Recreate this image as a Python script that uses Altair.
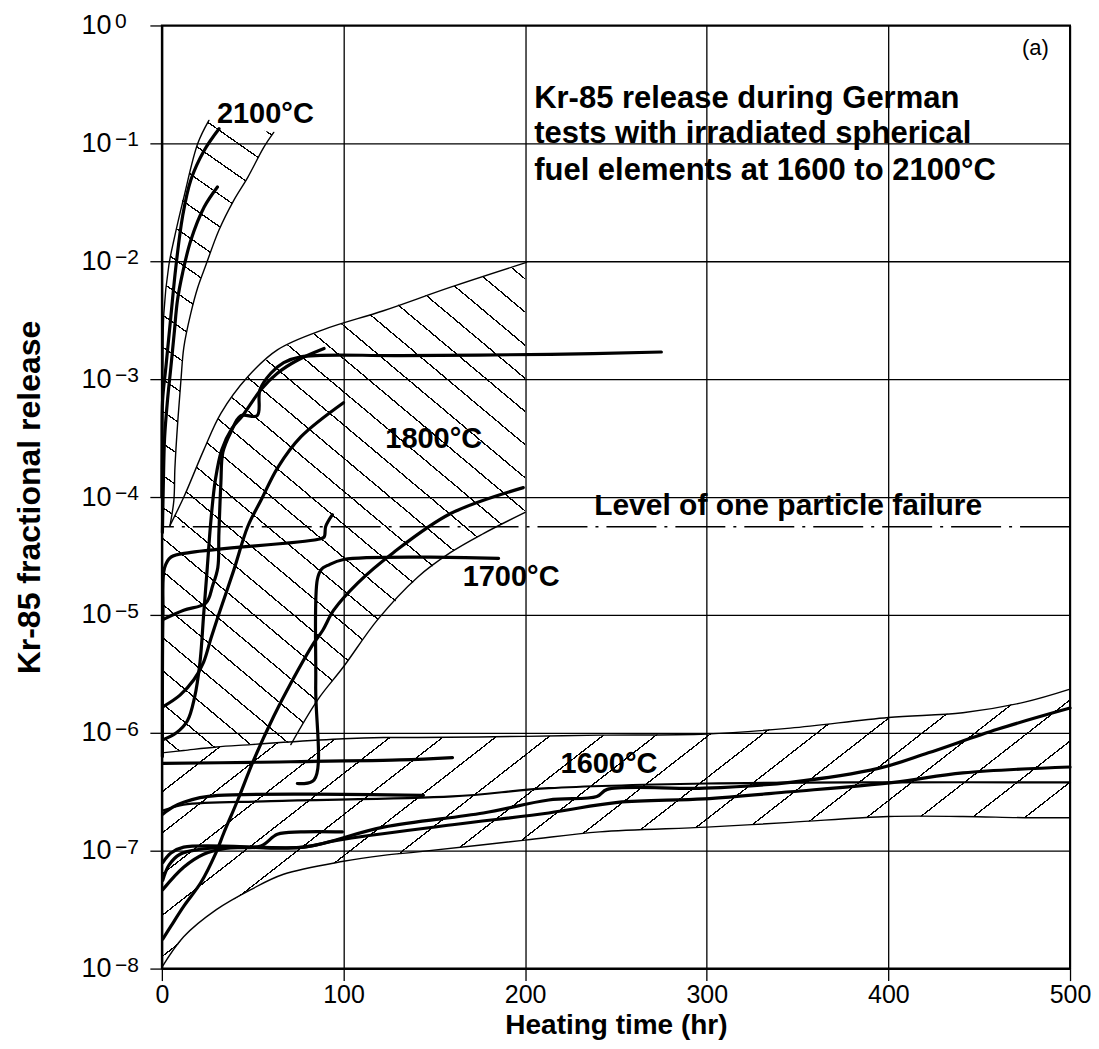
import math
import altair as alt
import pandas as pd

# ---------------- values ----------------
X_TICKS = [0, 100, 200, 300, 400, 500]
Y_TICKS = [1e-8, 1e-7, 1e-6, 1e-5, 1e-4, 1e-3, 1e-2, 1e-1, 1.0]
Y_EXPONENTS = ["−8", "−7", "−6", "−5", "−4", "−3", "−2", "−1", "0"]
LEVEL_ONE_PARTICLE = 5.6e-5

# hatched bands (log10 of fractional release)
# 2100 C band, read along the release axis: left / right time boundary
B2100_LOG = [-4.22, -4.03, -3.75, -3.35, -3.01, -2.73, -2.44, -2.22, -2.03, -1.74, -1.48, -1.29, -1.03, -0.91, -0.86, -0.805]
B2100_LEFT = [0, 0, 0, 0, 0.35, 0.8, 1.1, 2.3, 3.85, 7.6, 11.2, 14.5, 19.3, 22.5, 24.3, 25.9]
B2100_RIGHT = [5.0, 6.6, 7.2, 8.8, 10.5, 12.1, 15.95, 19.8, 24.2, 31.4, 39.6, 47.3, 56.1, 61.6, 45.2, 26.5]

# 1800 C band
B1800_T = [0, 5, 12, 23, 32.5, 47, 64, 71, 86, 100, 119, 141, 159, 177, 200]
B1800_UP = [-4.27, -4.22, -4.0, -3.60, -3.29, -2.98, -2.75, -2.70, -2.60, -2.53, -2.43, -2.31, -2.22, -2.13, -2.01]
B1800_LO = [-6.17, -6.16, -6.15, -6.13, -6.12, -6.10, -6.09, -6.08, -5.72, -5.44, -5.04, -4.68, -4.47, -4.31, -4.13]

# 1600 C band
B1600_T = [0, 12, 30, 49, 67, 100, 122, 141, 200, 241, 300, 346, 400, 441, 475, 500]
B1600_UP = [-6.17, -6.15, -6.12, -6.10, -6.08, -6.05, -6.04, -6.04, -6.03, -6.02, -6.01, -5.96, -5.87, -5.83, -5.74, -5.63]
B1600_LO = [-7.99, -7.73, -7.50, -7.33, -7.20, -7.09, -7.04, -7.01, -6.91, -6.84, -6.80, -6.76, -6.71, -6.71, -6.72, -6.72]

# thin band boundaries
E2100_LEFT_T = [25.9, 19.8, 12.1, 6.6, 3.85, 1.1, 0.55, 0.0]
E2100_LEFT_L = [-0.805, -1.0, -1.458, -1.822, -2.034, -2.44, -2.9, -3.2]
E2100_RIGHT_T = [61.6, 56.1, 47.3, 39.6, 31.4, 24.2, 19.8, 15.95, 12.1, 10.5, 8.8, 7.2, 6.6, 4.5]
E2100_RIGHT_L = [-0.907, -1.034, -1.288, -1.483, -1.737, -2.034, -2.22, -2.44, -2.73, -3.01, -3.35, -3.75, -4.03, -4.24]
E1800_UP_T = [4.5, 12.1, 23.1, 32.5, 47.3, 63.8, 89, 122, 159, 200.8]
E1800_UP_L = [-4.24, -4.0, -3.60, -3.29, -2.98, -2.75, -2.58, -2.42, -2.22, -2.01]
E1800_LO_T = [71, 85.8, 100, 118.8, 140.8, 159, 177, 200]
E1800_LO_L = [-6.10, -5.72, -5.44, -5.04, -4.68, -4.47, -4.31, -4.13]

# measured release curves (time in hr, log10 release)
C2100A_T = [0.0, 0.1, 0.4, 2.2, 4.95, 7.7, 11.4, 15.95, 23.3, 31.5]
C2100A_L = [-4.0, -3.6, -3.18, -2.90, -2.47, -2.05, -1.62, -1.31, -1.06, -0.876]
C2100B_T = [0.3, 0.8, 1.5, 3.1, 4.95, 6.8, 8.6, 11.4, 16.0, 23.3, 30.6]
C2100B_L = [-4.3, -3.9, -3.5, -3.18, -2.90, -2.61, -2.33, -2.10, -1.82, -1.54, -1.37]

C1800A_T = [0.5, 12, 24.2, 28, 30.8, 31.4, 32.5, 33.6, 37.95, 43.5, 52.5, 54, 60, 67.1, 76.5, 131.5, 214, 275]
C1800A_L = [-5.04, -4.96, -4.90, -4.75, -4.6, -4.31, -3.88, -3.62, -3.45, -3.31, -3.31, -3.09, -2.95, -2.86, -2.81, -2.80, -2.79, -2.77]
C1800B_T = [0.5, 8, 14, 18, 21, 23, 25, 27, 29.5, 33, 38.5, 44.4, 54.5, 63.6, 74.6, 89.3]
C1800B_L = [-6.06, -6.0, -5.9, -5.7, -5.4, -5.0, -4.6, -4.2, -3.85, -3.6, -3.42, -3.31, -3.09, -2.95, -2.84, -2.74]
C1800C_T = [0.5, 10, 17.6, 23, 27, 30.8, 39.6, 47.3, 54.5, 63.8, 76.5, 100]
C1800C_L = [-5.78, -5.68, -5.55, -5.40, -5.2, -5.02, -4.62, -4.25, -4.03, -3.75, -3.49, -3.20]

C1700A_T = [0.5, 5, 12.1, 21.5, 29.7, 34.1, 41.8, 50.6, 61.6, 71, 83.6, 88.6, 94.6, 107.8, 127.6, 159, 199]
C1700A_L = [-7.75, -7.64, -7.47, -7.27, -7.02, -6.85, -6.57, -6.23, -5.86, -5.58, -5.24, -5.13, -4.96, -4.73, -4.47, -4.14, -3.92]
C1700B_T = [74.6, 83.8, 84.7, 85.6, 88, 91.3, 100.1, 185.4]
C1700B_L = [-6.43, -6.40, -5.6, -4.70, -4.61, -4.58, -4.53, -4.52]
C1700C_T = [0.3, 0.6, 1.5, 5, 16, 85.6, 89.3, 90.2, 93.9]
C1700C_L = [-6.2, -5.0, -4.6, -4.51, -4.47, -4.36, -4.34, -4.25, -4.15]
C1700D_T = [0.5, 50, 131, 160]
C1700D_L = [-6.26, -6.25, -6.23, -6.21]

C1600A_T = [0.5, 6, 12, 21, 31, 80, 144]
C1600A_L = [-6.69, -6.63, -6.59, -6.55, -6.53, -6.52, -6.53]
C1600B_T = [0.5, 12, 60, 160, 213, 300, 400, 500]
C1600B_L = [-6.66, -6.61, -6.58, -6.54, -6.47, -6.43, -6.42, -6.42]
C1600C_T = [0.5, 4, 10, 20, 40, 78, 122, 177, 213, 239.5, 245.2, 298.5, 346, 395, 422, 460, 500]
C1600C_L = [-7.25, -7.12, -7.03, -6.99, -6.97, -6.97, -6.80, -6.68, -6.57, -6.54, -6.48, -6.47, -6.42, -6.30, -6.17, -5.97, -5.79]
C1600D_T = [0.5, 5, 12, 78, 97, 160, 213, 251, 298.5, 346, 403, 441, 500]
C1600D_L = [-7.10, -7.02, -6.97, -6.97, -6.91, -6.78, -6.68, -6.59, -6.56, -6.50, -6.42, -6.34, -6.29]
C1600E_T = [0.5, 12, 23, 35, 54.5, 63.6, 76.5, 99.4]
C1600E_L = [-7.33, -7.14, -7.03, -6.98, -6.96, -6.86, -6.84, -6.84]

# text annotations (anchor: time in hr, log10 release)
TEMP_LABELS = ["2100°C", "1800°C", "1700°C", "1600°C"]
TEMP_T = [30.3, 123, 165.6, 219.5]
TEMP_L = [-0.83, -3.585, -4.754, -6.34]
NOTE_LINES = ["Kr-85 release during German", "tests with irradiated spherical", "fuel elements at 1600 to 2100°C"]
NOTE_T = [205, 205, 205]
NOTE_L = [-0.703, -1.0, -1.314]
LEVEL_TEXT = ["Level of one particle failure"]
LEVEL_T = [238]
LEVEL_L = [-4.15]
PANEL_TEXT = ["(a)"]
PANEL_T = [473.5]
PANEL_L = [-0.254]

# ---------------- styling ----------------
W, H = 909, 944
PX_HR = W / 500.0
PX_DEC = H / 8.0
INK = "#000000"
CLEAR = "rgba(0,0,0,0)"
FONT = "Liberation Sans"


def v(logs):
    return [10 ** x for x in logs]


def hatch(t_vals, l_vals, angle_deg, spacing, lw, back=True):
    bw = (max(t_vals) - min(t_vals)) * PX_HR
    bh = (max(l_vals) - min(l_vals)) * PX_DEC
    a = math.radians(angle_deg)
    dx, dy = math.cos(a), (math.sin(a) if back else -math.sin(a))
    gx, gy = dy / bh, -dx / bw
    corners = [(0, 0), (1, 0), (0, 1), (1, 1)]
    pr = [u * gx + w * gy for u, w in corners]
    i0 = pr.index(min(pr))
    span = max(pr) - min(pr)
    n2 = gx * gx + gy * gy
    u0, w0 = corners[i0]
    x2 = u0 + gx * span / n2
    y2 = w0 + gy * span / n2
    ps = [-dy * u * bw + dx * w * bh for u, w in corners]
    L = max(ps) - min(ps)
    n = max(1, int(round(L / spacing)))
    h = lw / 2.0 / L
    stops = [alt.GradientStop(offset=0, color=CLEAR)]
    for k in range(n):
        c = (k + 0.5) / n
        stops += [
            alt.GradientStop(offset=round(c - h, 5), color=CLEAR),
            alt.GradientStop(offset=round(c - h, 5), color=INK),
            alt.GradientStop(offset=round(c + h, 5), color=INK),
            alt.GradientStop(offset=round(c + h, 5), color=CLEAR),
        ]
    stops.append(alt.GradientStop(offset=1, color=CLEAR))
    return alt.LinearGradient(gradient="linear", stops=stops,
                              x1=u0, y1=w0, x2=round(x2, 5), y2=round(y2, 5))


xs = alt.Scale(domain=[0, 500], nice=False, zero=False)
ys = alt.Scale(type="log", domain=[1e-8, 1], nice=False)

x_axis = alt.Axis(values=X_TICKS, grid=True, gridColor=INK, gridWidth=1.3, gridOpacity=1,
                  tickSize=12, tickColor=INK, tickWidth=1.3, domainColor=INK, domainWidth=2,
                  labelFont=FONT, labelFontSize=25, labelColor=INK, labelPadding=2,
                  labelFlush=False, title="Heating time (hr)", titleFont=FONT,
                  titleFontSize=28, titleFontWeight="bold", titleColor=INK, titlePadding=4)
y_axis = alt.Axis(values=Y_TICKS, grid=True, gridColor=INK, gridWidth=1.3, gridOpacity=1,
                  tickSize=12, tickColor=INK, tickWidth=1.3, domainColor=INK, domainWidth=2,
                  labelFont=FONT, labelFontSize=27, labelColor=INK, labelPadding=39,
                  labelExpr="'10'", labelFlush=False, labelBaseline="middle",
                  title="Kr-85 fractional release", titleFont=FONT, titleFontSize=32,
                  titleFontWeight="bold", titleColor=INK, titlePadding=34)


def X(field):
    return alt.X(field, type="quantitative", scale=xs, axis=x_axis)


def Y(field):
    return alt.Y(field, type="quantitative", scale=ys, axis=y_axis)


# ---- band fills ----
df2100 = pd.DataFrame({"val": v(B2100_LOG), "left": B2100_LEFT, "right": B2100_RIGHT})
df1800 = pd.DataFrame({"t": B1800_T, "up": v(B1800_UP), "lo": v(B1800_LO)})
df1600 = pd.DataFrame({"t": B1600_T, "up": v(B1600_UP), "lo": v(B1600_LO)})

fill1600 = alt.Chart(df1600).mark_area(
    fill=hatch(B1600_T, B1600_UP + B1600_LO, 38, 33, 1.3, back=False)
).encode(x=X("t"), y=Y("up"), y2="lo:Q")

fill1800 = alt.Chart(df1800).mark_area(
    fill=hatch(B1800_T, B1800_UP + B1800_LO, 40, 25, 1.3, back=True)
).encode(x=X("t"), y=Y("up"), y2="lo:Q")

fill2100 = alt.Chart(df2100).mark_area(
    orient="horizontal",
    fill=hatch(B2100_LEFT + B2100_RIGHT, B2100_LOG, 35, 26, 1.3, back=True)
).encode(y=Y("val"), x=X("left"), x2="right:Q")


def series_frame(items):
    rows = []
    for name, ts, ls in items:
        for i, (t, l) in enumerate(zip(ts, ls)):
            rows.append({"s": name, "i": i, "t": t, "val": 10 ** l})
    return pd.DataFrame(rows)


thin_df = series_frame([
    ("e2100l", E2100_LEFT_T, E2100_LEFT_L),
    ("e2100r", E2100_RIGHT_T, E2100_RIGHT_L),
    ("e1800u", E1800_UP_T, E1800_UP_L),
    ("e1800l", E1800_LO_T, E1800_LO_L),
    ("e1600u", B1600_T, B1600_UP),
    ("e1600l", B1600_T, B1600_LO),
])

thick_df = series_frame([
    ("c2100a", C2100A_T, C2100A_L),
    ("c2100b", C2100B_T, C2100B_L),
    ("c1800a", C1800A_T, C1800A_L),
    ("c1800b", C1800B_T, C1800B_L),
    ("c1800c", C1800C_T, C1800C_L),
    ("c1700a", C1700A_T, C1700A_L),
    ("c1700b", C1700B_T, C1700B_L),
    ("c1700c", C1700C_T, C1700C_L),
    ("c1700d", C1700D_T, C1700D_L),
    ("c1600a", C1600A_T, C1600A_L),
    ("c1600c", C1600C_T, C1600C_L),
    ("c1600d", C1600D_T, C1600D_L),
    ("c1600e", C1600E_T, C1600E_L),
])

medium_df = series_frame([("c1600b", C1600B_T, C1600B_L)])


def lines(df, width):
    return alt.Chart(df).mark_line(
        color=INK, strokeWidth=width, interpolate="catmull-rom",
        strokeCap="round", strokeJoin="round"
    ).encode(x=X("t"), y=Y("val"), detail="s:N", order="i:Q")


thin_lines = lines(thin_df, 1.4)
medium_lines = lines(medium_df, 2.2)
thick_lines = lines(thick_df, 3.2)

level_rule = alt.Chart(pd.DataFrame({"val": [LEVEL_ONE_PARTICLE]})).mark_rule(
    color=INK, strokeWidth=1.6, strokeDash=[50, 8, 3, 8]
).encode(y=Y("val"))


def texts(labels, ts, ls, size, weight):
    df = pd.DataFrame({"t": ts, "val": v(ls), "txt": labels})
    return alt.Chart(df).mark_text(
        font=FONT, fontSize=size, fontWeight=weight, color=INK,
        align="left", baseline="alphabetic"
    ).encode(x=X("t"), y=Y("val"), text="txt:N")


t_temp = texts(TEMP_LABELS, TEMP_T, TEMP_L, 29, "bold")
t_note = texts(NOTE_LINES, NOTE_T, NOTE_L, 31, "bold")
t_level = texts(LEVEL_TEXT, LEVEL_T, LEVEL_L, 30, "bold")
t_panel = texts(PANEL_TEXT, PANEL_T, PANEL_L, 22, "normal")

# exponents of the y tick labels (10^n), drawn next to the axis labels
exp_df = pd.DataFrame({"val": Y_TICKS, "txt": Y_EXPONENTS})
t_exp = alt.Chart(exp_df).mark_text(
    font=FONT, fontSize=21, color=INK, align="left", baseline="alphabetic", dy=3
).encode(x=alt.value(-47), y=Y("val"), text="txt:N")

chart = alt.layer(
    fill1600, fill1800, fill2100, thin_lines, level_rule,
    medium_lines, thick_lines, t_temp, t_note, t_level, t_panel, t_exp
).properties(
    width=W, height=H, background="white",
    padding={"left": 5, "top": 3, "right": 0, "bottom": 0},
).configure_view(stroke=INK, strokeWidth=2)

chart.save("out.html", embed_options={"renderer": "svg", "actions": False})
